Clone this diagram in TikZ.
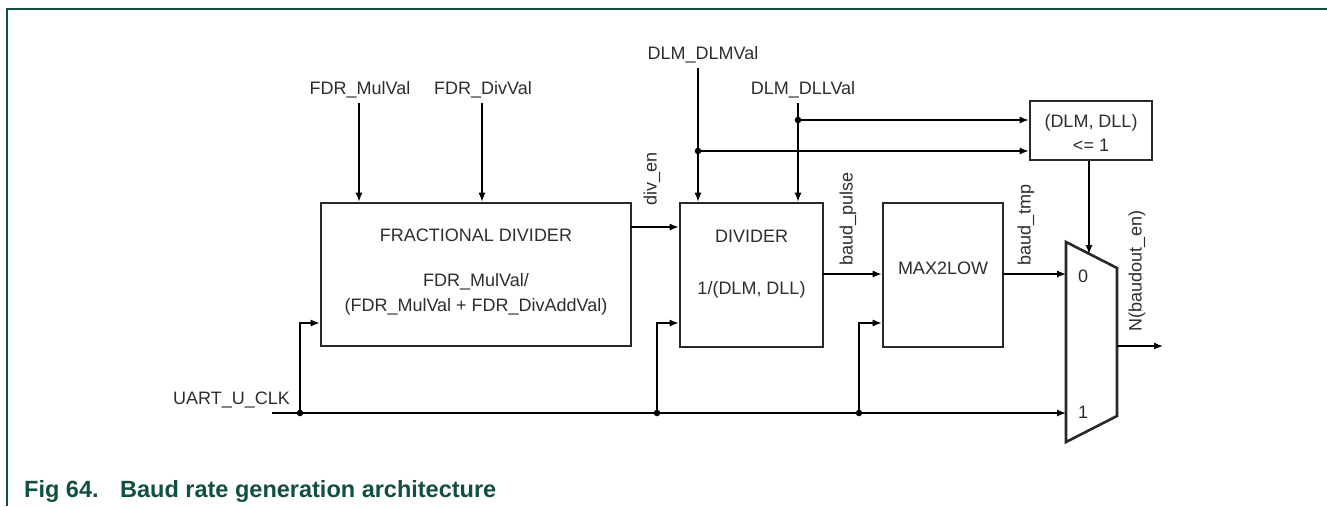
\documentclass[tikz,border=0pt]{standalone}
\usepackage{fontspec}
\setmainfont{Liberation Sans}
\usetikzlibrary{arrows.meta}
\definecolor{framegreen}{RGB}{16,80,64}
\definecolor{boxgray}{RGB}{40,40,40}
\definecolor{txtgray}{RGB}{45,45,45}
\tikzset{
  box/.style={draw=boxgray, line width=2.6pt, inner sep=0pt},
  lbl/.style={font=\fontsize{18}{22}\selectfont, text=txtgray, inner sep=0pt},
  captxt/.style={anchor=base west, font=\fontsize{23.5}{26}\selectfont\bfseries, text=framegreen, inner sep=0pt},
  wire/.style={line width=1.3pt, draw=black},
  arr/.style={wire, -{Latex[length=9pt,width=7pt]}},
  dot/.style={circle, fill=black, inner sep=0pt, minimum size=6.5pt},
}
\begin{document}
\begin{tikzpicture}[x=1pt,y=-1pt]
\useasboundingbox (0,0) rectangle (1327,506);
% frame
\draw[framegreen, line width=1.6pt] (7,506) -- (7,9) -- (1327,9);
\node[captxt] (cap1) at (24,497) {Fig 64.};
\node[captxt] (cap2) at (120,497) {Baud rate generation architecture};

% blocks
\node[box, minimum width=310pt, minimum height=143pt] (fd) at (476,274.5) {};
\node[lbl] (fdt1) at (476,235) {FRACTIONAL DIVIDER};
\node[lbl] (fdt2) at (476,282) {FDR\_MulVal/};
\node[lbl] (fdt3) at (476,307) {(FDR\_MulVal + FDR\_DivAddVal)};

\node[box, minimum width=143pt, minimum height=144pt] (dv) at (751.5,275) {};
\node[lbl] (dvt1) at (751.5,236) {DIVIDER};
\node[lbl] (dvt2) at (751.5,290) {1/(DLM, DLL)};

\node[box, minimum width=120pt, minimum height=144pt] (mx) at (943,275) {};
\node[lbl] (mxt) at (943,268) {MAX2LOW};

\node[box, minimum width=122pt, minimum height=59pt] (cmp) at (1091,130.5) {};
\node[lbl] (cmpt1) at (1091,123) {(DLM, DLL)};
\node[lbl] (cmpt2) at (1091,145) {<= 1};

% mux
\coordinate (mA) at (1066,242);
\coordinate (mB) at (1117,268);
\coordinate (mC) at (1117,416);
\coordinate (mD) at (1066,442);
\draw[draw=boxgray, line width=2.6pt, line join=miter] (mA) -- (mB) -- (mC) -- (mD) -- cycle;
\node[lbl] (m0) at (1083,276) {0};
\node[lbl] (m1) at (1083,412) {1};
\coordinate (mux0) at (1066,274);
\coordinate (mux1) at (1066,413);
\coordinate (muxsel) at (1089,254);
\coordinate (muxout) at (1117,346);
\coordinate (out) at (1163,346);
\draw[arr] (muxout) -- (out);
\node[lbl, rotate=90] (outl) at (1137,271) {N(baudout\_en)};

% inputs
\node[lbl] (mulv) at (360,90) {FDR\_MulVal};
\node[lbl] (divv) at (483,90) {FDR\_DivVal};
\node[lbl] (dlmv) at (703,55) {DLM\_DLMVal};
\node[lbl] (dllv) at (803,90) {DLM\_DLLVal};
\coordinate (mulv0) at (359,103);
\coordinate (divv0) at (482,103);
\coordinate (dlm0) at (698,68);
\coordinate (dll0) at (798,103);
\draw[arr] (mulv0) -- (mulv0 |- fd.north);
\draw[arr] (divv0) -- (divv0 |- fd.north);
\draw[arr] (dlm0) -- (dlm0 |- dv.north);
\draw[arr] (dll0) -- (dll0 |- dv.north);
\node[dot] (jdll) at (798,120) {};
\node[dot] (jdlm) at (698,151) {};
\draw[arr] (jdll.center) -- (jdll.center -| cmp.west);
\draw[arr] (jdlm.center) -- (jdlm.center -| cmp.west);
\draw[arr] (cmp.south -| muxsel) -- (muxsel);

% data path
\coordinate (fdo) at (631,227);
\draw[arr] (fdo) -- (fdo -| dv.west);
\node[lbl, rotate=90] (diven) at (652,179) {div\_en};
\coordinate (dvo) at (823,274);
\draw[arr] (dvo) -- (dvo -| mx.west);
\node[lbl, rotate=90] (bpl) at (848,219) {baud\_pulse};
\coordinate (mxo) at (1003,274);
\draw[arr] (mxo) -- (mux0);
\node[lbl, rotate=90] (btl) at (1026,225) {baud\_tmp};

% clock
\node[lbl, anchor=east] (clk) at (290,400) {UART\_U\_CLK};
\coordinate (clk0) at (272,413);
\draw[arr] (clk0) -- (mux1);
\node[dot] (j1) at (300,413) {};
\node[dot] (j2) at (657,413) {};
\node[dot] (j3) at (859,413) {};
\draw[arr] (j1.center) |- (fd.west |- 0,323);
\draw[arr] (j2.center) |- (dv.west |- 0,323);
\draw[arr] (j3.center) |- (mx.west |- 0,323);
\end{tikzpicture}
\end{document}
